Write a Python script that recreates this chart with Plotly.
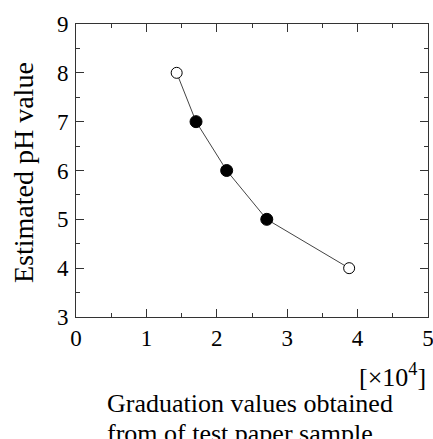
import plotly.graph_objects as go

# Data (x in units of 10^4)
x_open = [1.43, 3.88]
y_open = [8, 4]
x_filled = [1.705, 2.14, 2.71]
y_filled = [7, 6, 5]
x_line = [1.43, 1.705, 2.14, 2.71, 3.88]
y_line = [8, 7, 6, 5, 4]

x_ticks = [0, 1, 2, 3, 4, 5]
y_ticks = [3, 4, 5, 6, 7, 8, 9]

FONT = "Liberation Serif, Times New Roman, serif"

fig = go.Figure()
fig.add_trace(go.Scatter(x=x_line, y=y_line, mode="lines",
                         line=dict(color="#444444", width=1), showlegend=False,
                         hoverinfo="skip"))
fig.add_trace(go.Scatter(x=x_filled, y=y_filled, mode="markers",
                         marker=dict(size=12, color="black", line=dict(color="black", width=1)),
                         showlegend=False))
fig.add_trace(go.Scatter(x=x_open, y=y_open, mode="markers",
                         marker=dict(size=11, color="white", line=dict(color="black", width=1)),
                         showlegend=False))

L, R, T, B = 76, 5, 24, 122
W, H = 433, 439
pw = W - L - R
ph = H - T - B


def px_x(p):
    return (p - L) / pw


def px_y(p):
    return (T + ph - p) / ph


axis_common = dict(
    showgrid=False, zeroline=False, showline=True, linecolor="#333333", linewidth=1,
    mirror="ticks", ticks="inside", ticklen=8, tickwidth=1, tickcolor="#333333",
    tickfont=dict(family=FONT, size=23, color="black"),
    automargin=False, ticklabeloverflow="allow",
)

fig.update_layout(
    width=W, height=H,
    margin=dict(l=L, r=R, t=T, b=B),
    plot_bgcolor="white", paper_bgcolor="white",
    xaxis=dict(range=[0, 5], tickvals=x_ticks, ticktext=[str(v) for v in x_ticks],
               minor=dict(ticks="inside", ticklen=4, dtick=0.5, tickcolor="#333333"),
               ticklabelstandoff=0,
               **axis_common),
    yaxis=dict(range=[3, 9], tickvals=y_ticks, ticktext=[str(v) for v in y_ticks],
               minor=dict(ticks="inside", ticklen=4, dtick=0.5, tickcolor="#333333"),
               ticklabelstandoff=2,
               **axis_common),
    annotations=[
        dict(text="Estimated pH value", textangle=-90, xref="paper", yref="paper",
             x=px_x(23), y=px_y(173), xanchor="center", yanchor="middle",
             showarrow=False, font=dict(family=FONT, size=28, color="black")),
        dict(text="[×10<sup>4</sup>]", xref="paper", yref="paper",
             x=px_x(428), y=px_y(375), xanchor="right", yanchor="middle",
             showarrow=False, font=dict(family=FONT, size=26, color="black")),
        dict(text="Graduation values obtained", xref="paper", yref="paper",
             x=px_x(105), y=px_y(403), xanchor="left", yanchor="middle",
             showarrow=False, font=dict(family=FONT, size=26, color="black")),
        dict(text="from of test paper sample", xref="paper", yref="paper",
             x=px_x(105), y=px_y(433), xanchor="left", yanchor="middle",
             showarrow=False, font=dict(family=FONT, size=26, color="black")),
    ],
)

fig.write_html("out.html", config={"displayModeBar": False},
               post_script="document.body.style.margin='0';document.body.style.padding='0';")
